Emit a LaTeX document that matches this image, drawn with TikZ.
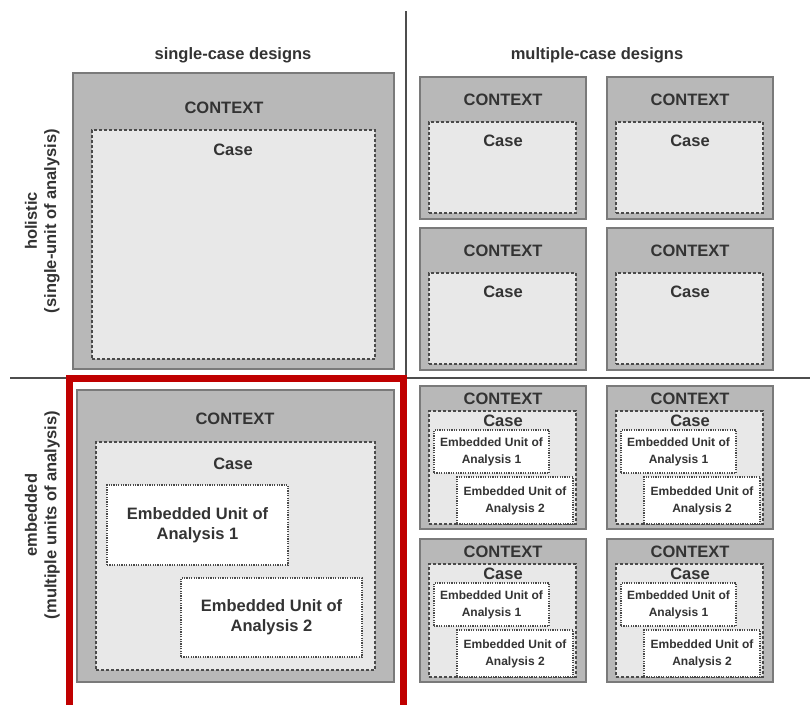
\documentclass[tikz,border=0pt]{standalone}
\usepackage{fontspec}
\setmainfont{Liberation Sans}
\usetikzlibrary{fit}
\definecolor{ctxfill}{HTML}{B8B8B8}
\definecolor{ctxline}{HTML}{7A7A7A}
\definecolor{casefill}{HTML}{E8E8E8}
\definecolor{caseline}{HTML}{4A4A4A}
\definecolor{txtc}{HTML}{333333}
\definecolor{divline}{HTML}{4D4D4D}
\definecolor{redframe}{HTML}{C00000}
\tikzset{
  ctxbox/.style={draw=ctxline, fill=ctxfill, line width=2pt, inner sep=0pt, outer sep=0pt},
  casebox/.style={draw=caseline, fill=casefill, line width=1.3pt, dash pattern=on 3pt off 2pt, inner sep=0pt, outer sep=0pt},
  embox/.style={draw=caseline, fill=white, line width=1.1pt, dash pattern=on 1.2pt off 1.2pt, inner sep=0pt, outer sep=0pt},
  lbl/.style={text=txtc, font=\bfseries\fontsize{16.5}{20}\selectfont, inner sep=0pt},
  capc/.style={text height=11.8pt, text depth=0pt},
  smalltxt/.style={text=txtc, font=\bfseries\fontsize{12}{17}\selectfont, inner sep=0pt, align=center},
  bigtxt/.style={text=txtc, font=\bfseries\fontsize{16.5}{20}\selectfont, inner sep=0pt, align=center},
  divider/.style={draw=divline, line width=2.6pt},
  redline/.style={draw=redframe, line width=6.5pt, line join=miter},
}
\newcommand\holibox[3]{%
  \node[ctxbox, fit={(#2,#3) (#2+166,#3+142)}] (#1) {};
  \node[lbl, capc] (#1-t) at (#2+83,#3+23) {CONTEXT};
  \node[casebox, fit={(#2+9,#3+45) (#2+156,#3+136)}] (#1-c) {};
  \node[lbl, capc] (#1-ct) at (#2+83,#3+64) {Case};
}
\newcommand\embdbox[3]{%
  \node[ctxbox, fit={(#2,#3) (#2+166,#3+143)}] (#1) {};
  \node[lbl, capc] (#1-t) at (#2+83,#3+13) {CONTEXT};
  \node[casebox, fit={(#2+9,#3+25) (#2+156,#3+138)}] (#1-c) {};
  \node[lbl, capc] (#1-ct) at (#2+83,#3+35) {Case};
  \node[embox, fit={(#2+14,#3+44) (#2+129,#3+87)}] (#1-e1) {};
  \node[smalltxt] (#1-e1t) at (#1-e1.center) {Embedded Unit of\\Analysis 1};
  \node[embox, fit={(#2+37,#3+91) (#2+153,#3+138)}] (#1-e2) {};
  \node[smalltxt] (#1-e2t) at (#1-e2.center) {Embedded Unit of\\Analysis 2};
}
\begin{document}
\begin{tikzpicture}[x=1pt, y=-1pt]
\useasboundingbox (0,0) rectangle (810,704);
% dividers
\coordinate (vtop) at (406,11);
\coordinate (vbot) at (406,692);
\coordinate (hl) at (10,378);
\coordinate (hr) at (810,378);
\draw[divider] (vtop) -- (vbot);
\draw[divider] (hl) -- (hr);
% headings
\node[lbl, anchor=base] (h1) at (233,59.5) {single-case designs};
\node[lbl, anchor=base] (h2) at (597,59.5) {multiple-case designs};
% row labels
\node[lbl, rotate=90] (r1a) at (31,221) {holistic};
\node[lbl, rotate=90] (r1b) at (52,221) {(single-unit of analysis)};
\node[lbl, rotate=90] (r2a) at (31,515) {embedded};
\node[lbl, rotate=90] (r2b) at (52,515) {(multiple units of analysis)};
% single holistic
\node[ctxbox, fit={(73,73) (394,369)}] (sh) {};
\node[lbl, capc] (sh-t) at (224,108) {CONTEXT};
\node[casebox, fit={(92,130) (375,359)}] (sh-c) {};
\node[lbl, capc] (sh-ct) at (233,150) {Case};
% multiple holistic
\holibox{mh1}{420}{77}
\holibox{mh2}{607}{77}
\holibox{mh3}{420}{228}
\holibox{mh4}{607}{228}
% single embedded
\node[ctxbox, fit={(77,390) (394,682)}] (se) {};
\node[lbl, capc] (se-t) at (235,419) {CONTEXT};
\node[casebox, fit={(96,442) (375,670)}] (se-c) {};
\node[lbl, capc] (se-ct) at (233,464) {Case};
\node[embox, fit={(107,485) (288,565)}] (se-e1) {};
\node[bigtxt] (se-e1t) at (se-e1.center) {Embedded Unit of\\Analysis 1};
\node[embox, fit={(181,578) (362,657)}] (se-e2) {};
\node[bigtxt] (se-e2t) at (se-e2.center) {Embedded Unit of\\Analysis 2};
% multiple embedded
\embdbox{me1}{420}{386}
\embdbox{me2}{607}{386}
\embdbox{me3}{420}{539}
\embdbox{me4}{607}{539}
% red frame
\coordinate (rf1) at (69.5,708);
\coordinate (rf2) at (69.5,378.5);
\coordinate (rf3) at (403.5,378.5);
\coordinate (rf4) at (403.5,708);
\draw[redline] (rf1) -- (rf2) -- (rf3) -- (rf4);
\end{tikzpicture}
\end{document}
